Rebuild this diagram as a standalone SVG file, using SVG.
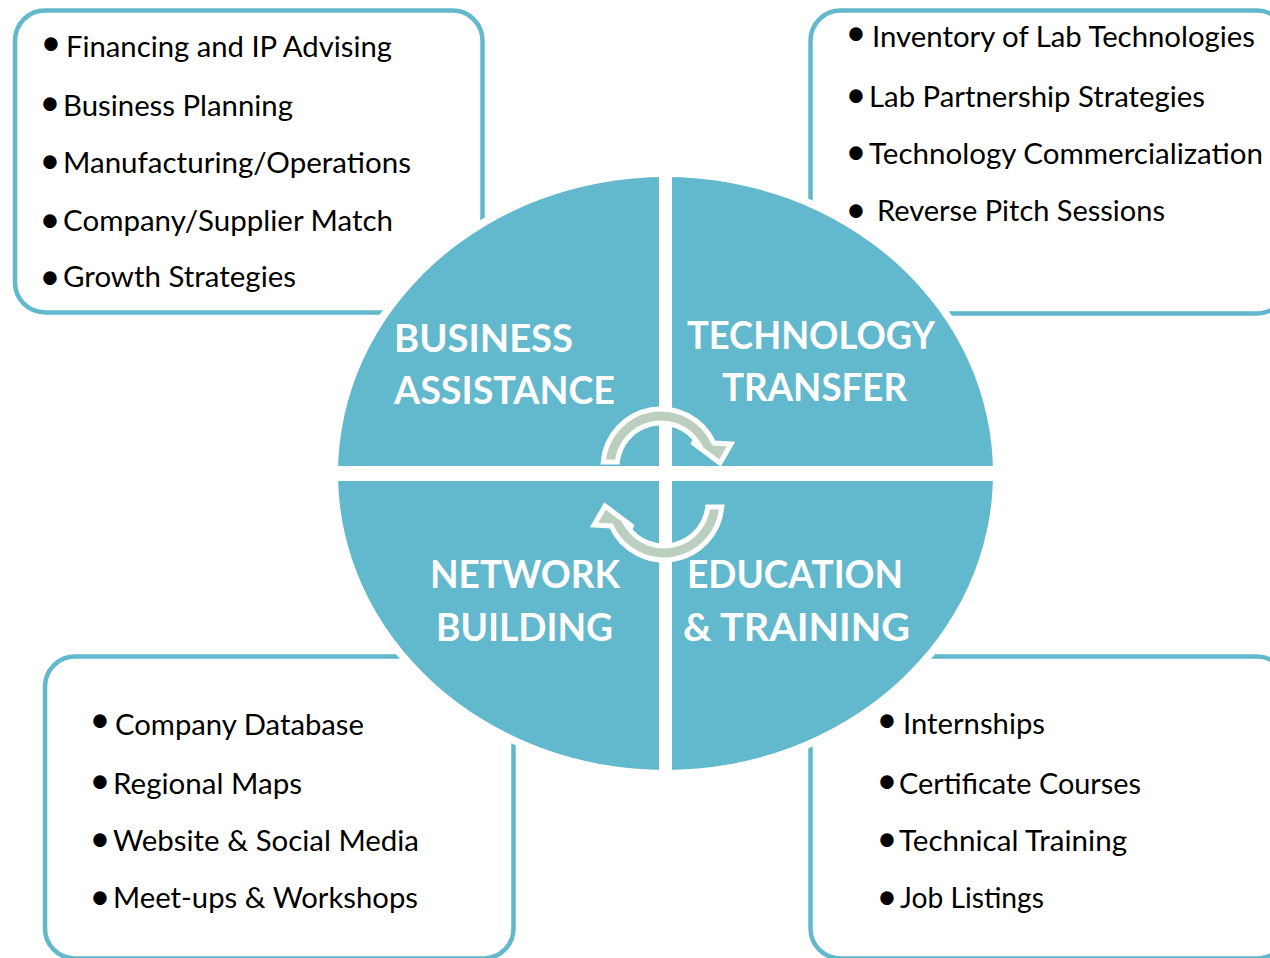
<svg xmlns="http://www.w3.org/2000/svg" xmlns:xlink="http://www.w3.org/1999/xlink" width="1270" height="958" viewBox="0 0 1270 958">
<style>
.box{fill:#ffffff;stroke:#62b8cc;stroke-width:4.5}
.item{font-family:Lato,"Open Sans","Liberation Sans",sans-serif;font-size:29px;fill:#000000}
.bul{font-family:Lato,"Open Sans","Liberation Sans",sans-serif;font-size:36px;fill:#000000;text-anchor:middle}
.lbl{font-family:Lato,"Open Sans","Liberation Sans",sans-serif;font-size:38px;font-weight:bold;fill:#ffffff}
.arrow{fill:#bccfbf;stroke:#ffffff;stroke-width:5;stroke-linejoin:miter}
</style>
<defs>
<path id="arrowShape" class="arrow" d="M 603.2 462 A 58 58 0 0 1 713.8 443 L 731 444 L 720 463 L 692 442 L 697.9 443 A 44 44 0 0 0 617.3 462 Z"/>
</defs>
<rect width="1270" height="958" fill="#ffffff"/>

<g id="box-business">
<rect class="box" x="15" y="10.5" width="467.5" height="302" rx="30"/>
<text class="bul" x="51" y="55">•</text>
<text class="item" x="66" y="57" textLength="326" lengthAdjust="spacingAndGlyphs">Financing and IP Advising</text>
<text class="bul" x="50" y="115">•</text>
<text class="item" x="63" y="116" textLength="230" lengthAdjust="spacingAndGlyphs">Business Planning</text>
<text class="bul" x="50" y="173">•</text>
<text class="item" x="63" y="173" textLength="348" lengthAdjust="spacingAndGlyphs">Manufacturing/Operations</text>
<text class="bul" x="50" y="232">•</text>
<text class="item" x="63" y="231" textLength="330" lengthAdjust="spacingAndGlyphs">Company/Supplier Match</text>
<text class="bul" x="50" y="289">•</text>
<text class="item" x="63" y="287" textLength="233" lengthAdjust="spacingAndGlyphs">Growth Strategies</text>
</g>

<g id="box-technology">
<rect class="box" x="810.5" y="10.5" width="476.5" height="303" rx="30"/>
<text class="bul" x="856" y="45">•</text>
<text class="item" x="872" y="47" textLength="383" lengthAdjust="spacingAndGlyphs">Inventory of Lab Technologies</text>
<text class="bul" x="856" y="107">•</text>
<text class="item" x="869" y="107" textLength="336" lengthAdjust="spacingAndGlyphs">Lab Partnership Strategies</text>
<text class="bul" x="856" y="164">•</text>
<text class="item" x="869" y="164" textLength="394" lengthAdjust="spacingAndGlyphs">Technology Commercialization</text>
<text class="bul" x="856" y="222">•</text>
<text class="item" x="877" y="221" textLength="288" lengthAdjust="spacingAndGlyphs">Reverse Pitch Sessions</text>
</g>

<g id="box-network">
<rect class="box" x="45" y="656.5" width="468.5" height="302" rx="30"/>
<text class="bul" x="100" y="732">•</text>
<text class="item" x="115" y="735" textLength="249" lengthAdjust="spacingAndGlyphs">Company Database</text>
<text class="bul" x="100" y="793">•</text>
<text class="item" x="113" y="794" textLength="189" lengthAdjust="spacingAndGlyphs">Regional Maps</text>
<text class="bul" x="100" y="851">•</text>
<text class="item" x="113" y="851" textLength="306" lengthAdjust="spacingAndGlyphs">Website &amp; Social Media</text>
<text class="bul" x="100" y="909">•</text>
<text class="item" x="113" y="908" textLength="305" lengthAdjust="spacingAndGlyphs">Meet-ups &amp; Workshops</text>
</g>

<g id="box-education">
<rect class="box" x="810.5" y="656.5" width="476.5" height="302" rx="30"/>
<text class="bul" x="887" y="732">•</text>
<text class="item" x="903" y="734" textLength="142" lengthAdjust="spacingAndGlyphs">Internships</text>
<text class="bul" x="887" y="793">•</text>
<text class="item" x="899" y="794" textLength="242" lengthAdjust="spacingAndGlyphs">Certificate Courses</text>
<text class="bul" x="887" y="851">•</text>
<text class="item" x="899" y="851" textLength="228" lengthAdjust="spacingAndGlyphs">Technical Training</text>
<text class="bul" x="887" y="909">•</text>
<text class="item" x="900" y="908" textLength="144" lengthAdjust="spacingAndGlyphs">Job Listings</text>
</g>

<g id="wheel">
<ellipse cx="665.5" cy="473.5" rx="335" ry="304" fill="#ffffff"/>
<ellipse cx="665.5" cy="473.5" rx="327.5" ry="296.5" fill="#62b8cc"/>
<rect x="659" y="165" width="13" height="620" fill="#ffffff"/>
<rect x="325" y="466" width="680" height="15" fill="#ffffff"/>
</g>

<g id="connectors">
<use xlink:href="#arrowShape" href="#arrowShape"/>
<use xlink:href="#arrowShape" href="#arrowShape" transform="translate(3,-1) rotate(180 661 485)"/>
</g>

<g id="node-business-assistance">
<text class="lbl" x="394" y="352" textLength="179" lengthAdjust="spacingAndGlyphs">BUSINESS</text>
<text class="lbl" x="394" y="404" textLength="221" lengthAdjust="spacingAndGlyphs">ASSISTANCE</text>
</g>
<g id="node-technology-transfer">
<text class="lbl" x="687" y="349" textLength="248" lengthAdjust="spacingAndGlyphs">TECHNOLOGY</text>
<text class="lbl" x="722" y="401" textLength="185" lengthAdjust="spacingAndGlyphs">TRANSFER</text>
</g>
<g id="node-network-building">
<text class="lbl" x="430" y="588" textLength="190" lengthAdjust="spacingAndGlyphs">NETWORK</text>
<text class="lbl" x="436" y="641" textLength="177" lengthAdjust="spacingAndGlyphs">BUILDING</text>
</g>
<g id="node-education-training">
<text class="lbl" x="687" y="588" textLength="216" lengthAdjust="spacingAndGlyphs">EDUCATION</text>
<text class="lbl" x="683" y="641" textLength="227" lengthAdjust="spacingAndGlyphs">&amp; TRAINING</text>
</g>
</svg>
